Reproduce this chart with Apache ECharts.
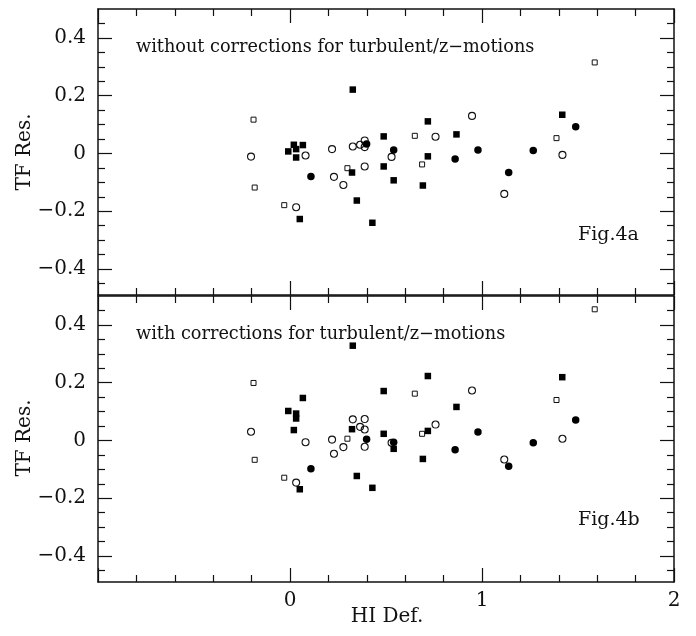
<!DOCTYPE html>
<html>
<head>
<meta charset="utf-8">
<script src="https://cdn.jsdelivr.net/npm/echarts@6/dist/echarts.min.js"></script>
<style>
html,body{margin:0;padding:0;background:#fff;}
#c{width:696px;height:636px;}
</style>
</head>
<body>
<div id="c"></div>
<script>
// ---- data ----
var openSqX   = [-0.19, -0.184, -0.03, 0.299, 0.65, 0.688, 1.388, 1.587];
var openSqA   = [0.117, -0.118, -0.179, -0.051, 0.061, -0.038, 0.053, 0.315];
var openSqB   = [0.199, -0.067, -0.129, 0.006, 0.162, 0.023, 0.14, 0.454];

var filledSqX = [-0.009, 0.02, 0.032, 0.067, 0.032, 0.051, 0.327, 0.323, 0.348, 0.429, 0.488, 0.488, 0.54, 0.718, 0.718, 0.692, 0.867, 1.418];
var filledSqA = [0.007, 0.03, 0.015, 0.029, -0.014, -0.227, 0.221, -0.066, -0.163, -0.24, 0.059, -0.045, -0.093, 0.111, -0.01, -0.111, 0.066, 0.134];
var filledSqB = [0.102, 0.036, 0.093, 0.147, 0.076, -0.169, 0.328, 0.039, -0.123, -0.164, 0.171, 0.023, -0.029, 0.223, 0.033, -0.064, 0.116, 0.219];

var openCircX = [-0.203, 0.081, 0.032, 0.219, 0.229, 0.278, 0.327, 0.365, 0.389, 0.389, 0.389, 0.529, 0.758, 0.948, 1.116, 1.419];
var openCircA = [-0.011, -0.007, -0.186, 0.015, -0.081, -0.109, 0.024, 0.03, 0.045, 0.022, -0.045, -0.012, 0.058, 0.13, -0.14, -0.005];
var openCircB = [0.03, -0.006, -0.146, 0.003, -0.046, -0.023, 0.073, 0.047, 0.074, 0.038, -0.022, -0.008, 0.055, 0.173, -0.066, 0.006];

var filledCircX = [0.109, 0.399, 0.54, 0.86, 0.979, 1.139, 1.267, 1.488];
var filledCircA = [-0.08, 0.033, 0.012, -0.019, 0.012, -0.066, 0.01, 0.092];
var filledCircB = [-0.098, 0.004, -0.006, -0.032, 0.029, -0.089, -0.008, 0.071];

var yMajorTicks = [-0.4, -0.2, 0, 0.2, 0.4];
var yMinorTicks = [-0.45, -0.35, -0.3, -0.25, -0.15, -0.1, -0.05, 0.05, 0.1, 0.15, 0.25, 0.3, 0.35, 0.45];
var xTickLabels = {'-1': '', '0': '0', '1': '1', '2': '2'};

var titleA = 'without corrections for turbulent/z\u2212motions';
var titleB = 'with corrections for turbulent/z\u2212motions';
var figA = 'Fig.4a', figB = 'Fig.4b';
var yName = 'TF Res.', xName = 'HI Def.';

// ---- chart ----
var FONT = 'DejaVu Serif';
var INK = '#111';
var Y_MIN = -0.49, Y_MAX = 0.5;

function zip(xs, ys) { return xs.map(function (x, i) { return [x, ys[i]]; }); }

function xAx(gi, pos, labels) {
  return {
    type: 'value', gridIndex: gi, position: pos, min: -1, max: 2, interval: 1,
    axisLine: {show: true, onZero: false, lineStyle: {color: INK, width: 1.5}},
    axisTick: {show: true, inside: true, length: 14, lineStyle: {color: INK, width: 1.2}},
    minorTick: {show: true, splitNumber: 5, length: 7, lineStyle: {color: INK, width: 1.2}},
    axisLabel: {show: labels, margin: 9, fontFamily: FONT, fontSize: 20, color: INK,
      formatter: function (v) { var k = String(Math.round(v)); return xTickLabels[k] !== undefined ? xTickLabels[k] : ''; }},
    splitLine: {show: false}
  };
}
function fmtY(v) {
  if (Math.abs(v) < 1e-9) return '0';
  return v.toFixed(1).replace('-', '\u2212');
}
function yAx(gi, pos, major, labels) {
  return {
    type: 'value', gridIndex: gi, position: pos, min: Y_MIN, max: Y_MAX,
    axisLine: {show: major, onZero: false, lineStyle: {color: INK, width: 1.5}},
    axisTick: {show: true, inside: true, length: major ? 14 : 7,
      customValues: major ? yMajorTicks : yMinorTicks, lineStyle: {color: INK, width: 1.2}},
    axisLabel: {show: labels, margin: 12, fontFamily: FONT, fontSize: 20, color: INK,
      customValues: yMajorTicks, formatter: fmtY},
    splitLine: {show: false}
  };
}

function panelSeries(xi, yi, osY, fsY, ocY, fcY) {
  return [
    {type: 'scatter', xAxisIndex: xi, yAxisIndex: yi, data: zip(openSqX, osY), symbol: 'rect', symbolSize: 5,
      itemStyle: {color: '#fff', borderColor: INK, borderWidth: 1, opacity: 1}},
    {type: 'scatter', xAxisIndex: xi, yAxisIndex: yi, data: zip(openCircX, ocY), symbol: 'circle', symbolSize: 7,
      itemStyle: {color: 'rgba(255,255,255,0)', borderColor: INK, borderWidth: 1.1, opacity: 1}},
    {type: 'scatter', xAxisIndex: xi, yAxisIndex: yi, data: zip(filledSqX, fsY), symbol: 'rect', symbolSize: 6.5,
      itemStyle: {color: '#000', opacity: 1}},
    {type: 'scatter', xAxisIndex: xi, yAxisIndex: yi, data: zip(filledCircX, fcY), symbol: 'circle', symbolSize: 7.5,
      itemStyle: {color: '#000', opacity: 1}}
  ];
}

function txt(x, y, s, size, align) {
  return {type: 'text', x: x, y: y,
    style: {text: s, fontFamily: FONT, fontSize: size, fill: INK, align: align || 'left', verticalAlign: 'middle'}};
}
function vtxt(x, y, s) {
  return {type: 'text', x: x, y: y, rotation: Math.PI / 2,
    style: {text: s, fontFamily: FONT, fontSize: 20, fill: INK, align: 'center', verticalAlign: 'middle'}};
}

var chart = echarts.init(document.getElementById('c'));
chart.setOption({
  animation: false,
  backgroundColor: '#fff',
  grid: [
    {left: 98, top: 9, width: 576, height: 286},
    {left: 98, top: 296, width: 576, height: 286}
  ],
  xAxis: [xAx(0, 'bottom', false), xAx(0, 'top', false), xAx(1, 'bottom', true), xAx(1, 'top', false)],
  yAxis: [
    yAx(0, 'left', true, true), yAx(0, 'left', false, false), yAx(0, 'right', true, false), yAx(0, 'right', false, false),
    yAx(1, 'left', true, true), yAx(1, 'left', false, false), yAx(1, 'right', true, false), yAx(1, 'right', false, false)
  ],
  series: [].concat(
    panelSeries(0, 0, openSqA, filledSqA, openCircA, filledCircA),
    panelSeries(2, 4, openSqB, filledSqB, openCircB, filledCircB)
  ),
  graphic: [
    txt(136, 47, titleA, 17.7),
    txt(136, 334, titleB, 17.7),
    txt(578, 235, figA, 19),
    txt(578, 520, figB, 19),
    txt(387, 617, xName, 20, 'center'),
    vtxt(25, 152, yName),
    vtxt(25, 438, yName)
  ]
});
</script>
</body>
</html>
